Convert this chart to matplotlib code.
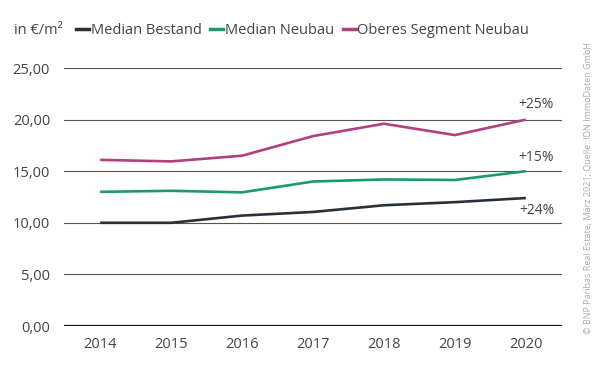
import matplotlib
matplotlib.use("Agg")
from matplotlib import pyplot as plt
from matplotlib.lines import Line2D

years = [2014, 2015, 2016, 2017, 2018, 2019, 2020]
median_bestand = [10.0, 10.0, 10.7, 11.05, 11.7, 12.0, 12.4]
median_neubau = [13.0, 13.1, 12.95, 14.0, 14.2, 14.15, 15.0]
oberes_segment = [16.1, 15.95, 16.5, 18.4, 19.6, 18.5, 20.0]
series_names = ["Median Bestand", "Median Neubau", "Oberes Segment Neubau"]
change_labels = ["+24%", "+15%", "+25%"]
y_ticks = [0, 5, 10, 15, 20, 25]

colors = ["#27313d", "#1b9a6c", "#b3407e"]
text_col = "#444444"

plt.rcParams["font.family"] = ["Open Sans", "DejaVu Sans"]

fig = plt.figure(figsize=(6.0, 3.76), dpi=100)
ax = fig.add_axes([64 / 600, 1 - 326 / 376, (562 - 64) / 600, (326 - 68) / 376])

for yt in y_ticks:
    ax.axhline(yt, color="#111111" if yt == 0 else "#555555",
               lw=1.6 if yt == 0 else 0.8, zorder=1)

for vals, col in zip([median_bestand, median_neubau, oberes_segment], colors):
    ax.plot(years, vals, color=col, lw=1.9, zorder=3, solid_capstyle="butt")

# change labels next to the last point
offsets = [-1.2, 1.3, 1.5]
for vals, lab, off in zip([median_bestand, median_neubau, oberes_segment], change_labels, offsets):
    ax.text(years[-1] + 0.15, vals[-1] + off, lab, fontsize=10, color=text_col,
            ha="center", va="center", zorder=4,
            bbox=dict(facecolor="white", edgecolor="none", pad=1.5) if off < 0 else None)

ax.set_xlim(2013.49, 2020.51)
ax.set_ylim(0, 25)
ax.set_xticks(years)
ax.set_xticklabels([str(y) for y in years], fontsize=10.5, color=text_col)
ax.set_yticks(y_ticks)
ax.set_yticklabels(["%d,00" % y for y in y_ticks], fontsize=10.5, color=text_col)
ax.tick_params(length=0, pad=10)
ax.tick_params(axis="x", pad=8)
for s in ax.spines.values():
    s.set_visible(False)

fig.text(14 / 600, 1 - 31 / 376, "in €/m²", fontsize=10.5, color=text_col, va="center")
handles = [Line2D([0], [0], color=c, lw=2.5) for c in colors]
fig.legend(handles, series_names, loc="center left", bbox_to_anchor=(76 / 600, 1 - 31 / 376),
           ncol=3, frameon=False, fontsize=10.5, handlelength=0.9, handletextpad=0.1,
           columnspacing=0.6, labelcolor=text_col, borderaxespad=0, borderpad=0)

fig.text(588 / 600, 0.5, "© BNP Paribas Real Estate, März 2021; Quelle: IDN ImmoDaten GmbH",
         rotation=90, fontsize=6.5, color="#aaaaaa", ha="center", va="center")

plt.savefig("out.png", dpi=100)
